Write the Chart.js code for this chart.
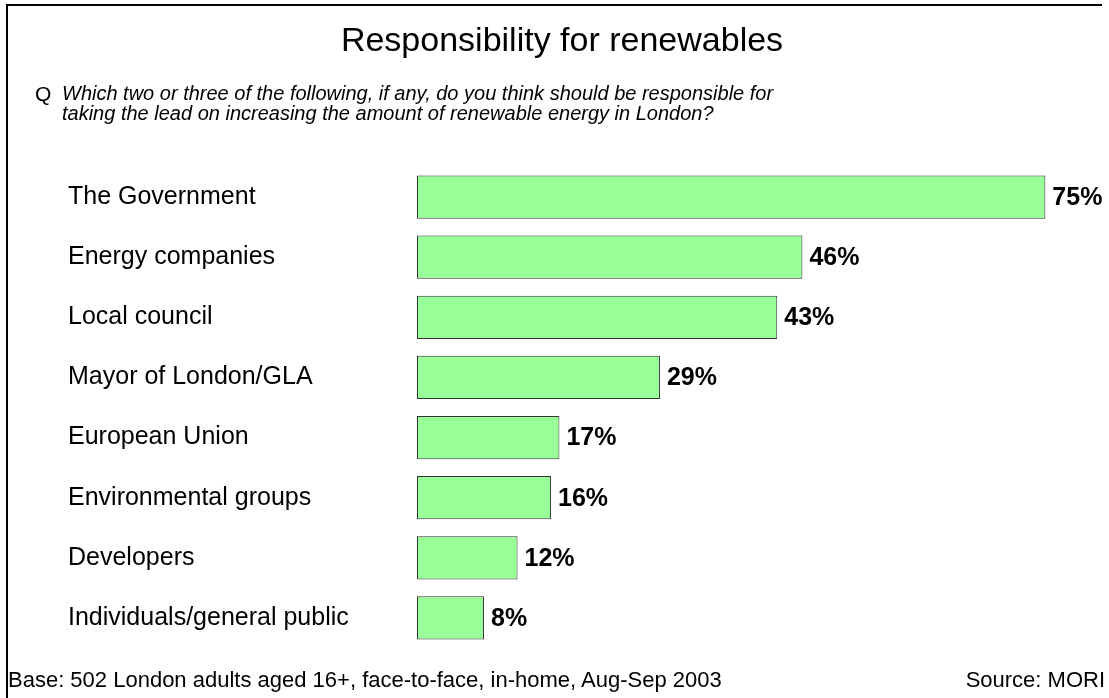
<!DOCTYPE html>
<html>
<head>
<meta charset="utf-8">
<title>Responsibility for renewables</title>
<script src="https://cdn.jsdelivr.net/npm/chart.js@4.4.1/dist/chart.umd.min.js"></script>
<style>
  body { margin:0; background:#fff; font-family:"Liberation Sans", Arial, sans-serif; color:#000; }
  #wrap { position:relative; width:1109px; height:698px; overflow:hidden; }
  #frame { position:absolute; left:6px; top:4px; width:1094px; height:720px; border-left:2px solid #000; border-top:2px solid #000; }
  #chart { position:absolute; left:0; top:0; }
  .txt { position:absolute; white-space:nowrap; }
  #title { left:0; width:1124px; top:20px; text-align:center; font-size:34px; }
  #q { left:35px; top:84px; font-size:21px; line-height:20px; }
  #qtext { left:62px; top:83px; font-size:20px; font-style:italic; line-height:20px; }
  #base { left:8px; top:667px; font-size:22px; }
  #source { right:4px; top:667px; font-size:22px; }
</style>
</head>
<body>
<div id="wrap">
  <div id="frame"></div>
  <canvas id="chart" width="1109" height="698"></canvas>
  <div class="txt" id="title">Responsibility for renewables</div>
  <div class="txt" id="q">Q</div>
  <div class="txt" id="qtext">Which two or three of the following, if any, do you think should be responsible for<br>taking the lead on increasing the amount of renewable energy in London?</div>
  <div class="txt" id="base">Base: 502 London adults aged 16+, face-to-face, in-home, Aug-Sep 2003</div>
  <div class="txt" id="source">Source: MORI</div>
</div>
<script>
// --- Data ---
const categories = [
  "The Government",
  "Energy companies",
  "Local council",
  "Mayor of London/GLA",
  "European Union",
  "Environmental groups",
  "Developers",
  "Individuals/general public"
];
const values = [75, 46, 43, 29, 17, 16, 12, 8];

// --- Value labels at bar ends ---
const valueLabels = {
  id: 'valueLabels',
  afterDatasetsDraw(chart){
    const ctx = chart.ctx;
    const meta = chart.getDatasetMeta(0);
    ctx.save();
    ctx.font = 'bold 25px "Liberation Sans", Arial, sans-serif';
    ctx.fillStyle = '#000';
    ctx.textAlign = 'left';
    ctx.textBaseline = 'middle';
    meta.data.forEach((bar, i) => ctx.fillText(values[i] + '%', bar.x + 7, bar.y + 1));
    ctx.restore();
  }
};

new Chart(document.getElementById('chart'), {
  type: 'bar',
  data: {
    labels: categories,
    datasets: [{
      data: values,
      backgroundColor: '#99ff99',
      borderColor: '#333333',
      borderWidth: 1,
      borderSkipped: false,
      categoryPercentage: 1,
      barPercentage: 0.72
    }]
  },
  options: {
    indexAxis: 'y',
    responsive: false,
    animation: false,
    layout: { padding: { left: 68, top: 167, bottom: 50, right: 5 } },
    plugins: { legend: { display: false }, tooltip: { enabled: false } },
    scales: {
      x: { display: false, min: 0, max: 82 },
      y: {
        grid: { display: false },
        border: { display: false },
        afterFit: s => { s.width = 349; },
        ticks: {
          crossAlign: 'far',
          padding: 0,
          color: '#000',
          font: { family: '"Liberation Sans", Arial, sans-serif', size: 25 }
        }
      }
    }
  },
  plugins: [valueLabels]
});
</script>
</body>
</html>
